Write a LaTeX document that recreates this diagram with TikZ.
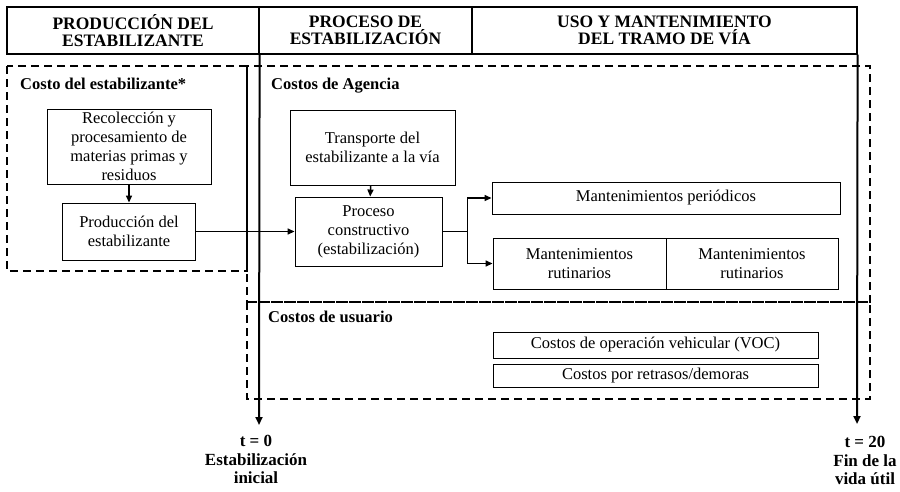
\documentclass[tikz,border=0pt]{standalone}
\usepackage{fontspec}
\setmainfont{Liberation Serif}
\usetikzlibrary{arrows.meta}
\tikzset{
  head/.style={draw, line width=1.2pt, inner sep=0pt, align=center,
    font=\bfseries\fontsize{17.5}{17.5}\selectfont},
  costbox/.style={draw, line width=0.9pt, inner sep=0pt, align=center,
    font=\fontsize{16.5}{19}\selectfont},
  zone/.style={draw, line width=1.8pt, dash pattern=on 8pt off 5pt},
  zonelabel/.style={anchor=base west, inner sep=0pt,
    font=\bfseries\fontsize{16.5}{19}\selectfont},
  timelabel/.style={anchor=north, align=center, inner sep=0pt,
    font=\bfseries\fontsize{17}{18.5}\selectfont},
  flow/.style={line width=1.5pt, -{Triangle[length=7pt,width=6pt]}},
  timeline/.style={line width=2pt, -{Triangle[length=8pt,width=7pt]}}
}
\begin{document}
\begin{tikzpicture}[x=1pt,y=-1pt]
\useasboundingbox (0,0) rectangle (900,491);
% cabecera
\node[head, minimum width=252pt, minimum height=47pt] (h1) at (133,30.5) {PRODUCCIÓN DEL\\ESTABILIZANTE};
\node[head, minimum width=213pt, minimum height=47pt] (h2) at (365.5,30.5) {PROCESO DE\\ESTABILIZACIÓN};
\node[head, minimum width=385pt, minimum height=47pt] (h3) at (664.5,30.5) {USO Y MANTENIMIENTO\\DEL TRAMO DE VÍA};
% zonas de costos
\path[zone] (7,66) rectangle (247,271);
\path[zone] (247,66) rectangle (870,302);
\path[zone] (247,302) rectangle (870,399);
\node[zonelabel] (lest) at (20,89) {Costo del estabilizante*};
\node[zonelabel] (lage) at (271,89) {Costos de Agencia};
\node[zonelabel] (lusu) at (268,322) {Costos de usuario};
% eje de tiempo
\coordinate (t0) at (259,425);
\coordinate (t20) at (857,424);
\path[draw,timeline] (h1.south east) -- (t0);
\path[draw,timeline] (h3.south east) -- (t20);
\node[timelabel] (t0text) at (256,435) {t = 0\\Estabilización\\inicial};
\node[timelabel] (t20text) at (865,436) {t = 20\\Fin de la\\vida útil};
% cajas
\node[costbox, minimum width=164pt, minimum height=75pt] (recol) at (129,146.5) {Recolección y\\procesamiento de\\materias primas y\\residuos};
\node[costbox, minimum width=133pt, minimum height=57pt] (prod) at (129,231.5) {Producción del\\estabilizante};
\node[costbox, minimum width=165pt, minimum height=75pt] (transp) at (372.5,147.5) {Transporte del\\estabilizante a la vía};
\node[costbox, minimum width=147pt, minimum height=69pt] (proc) at (368.5,231.5) {Proceso\\constructivo\\(estabilización)};
\node[costbox, minimum width=348pt, minimum height=32pt] (mper) at (666,198) {Mantenimientos periódicos};
\node[costbox, minimum width=173pt, minimum height=51pt] (mrut1) at (579.5,263.5) {Mantenimientos\\rutinarios};
\node[costbox, minimum width=172pt, minimum height=51pt] (mrut2) at (752,263.5) {Mantenimientos\\rutinarios};
\node[costbox, minimum width=325pt, minimum height=26pt] (voc) at (655.5,345) {Costos de operación vehicular (VOC)};
\node[costbox, minimum width=325pt, minimum height=23pt] (dem) at (655.5,375.5) {Costos por retrasos/demoras};
% flechas
\path[draw,flow] (recol) -- (prod);
\path[draw,flow] (transp) -- (proc);
\path[draw,flow] (prod) -- (proc);
\path[draw,flow] (proc.east) -- ++(25,0) |- (mper.west);
\path[draw,flow] (proc.east) -- ++(25,0) |- (mrut1.west);
\end{tikzpicture}
\end{document}
